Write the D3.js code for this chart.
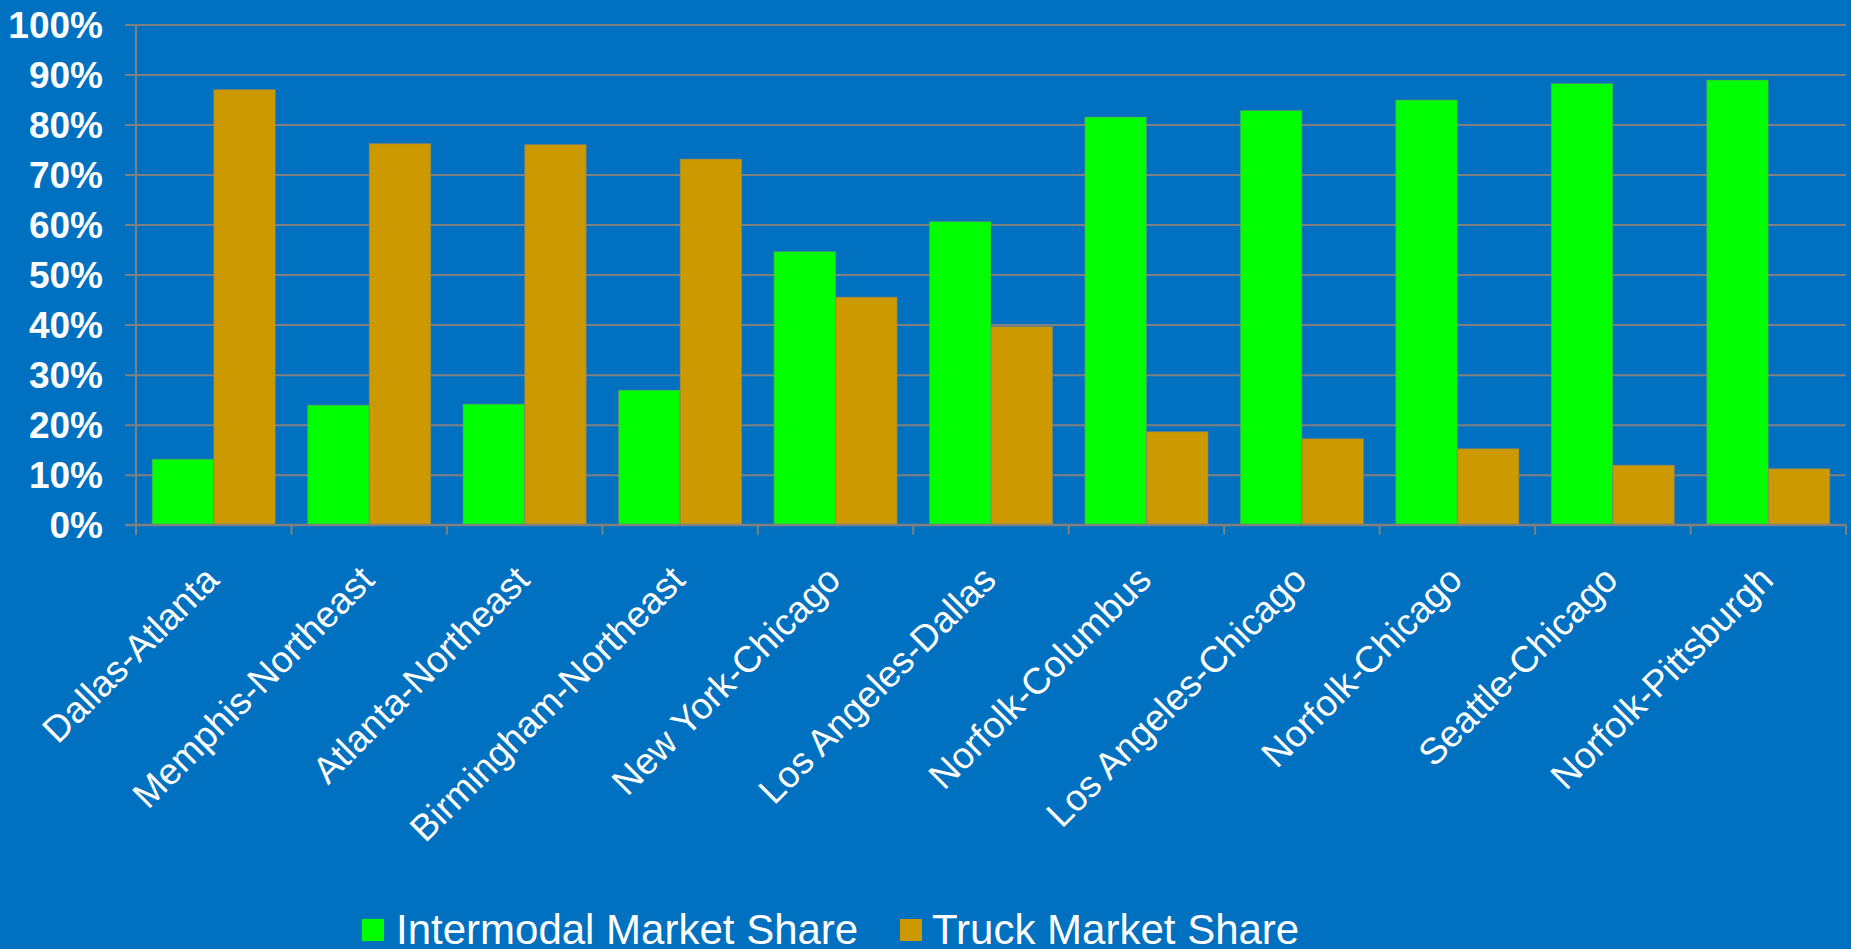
<!DOCTYPE html>
<html>
<head>
<meta charset="utf-8">
<script src="https://cdn.jsdelivr.net/npm/d3@7"></script>
<style>
  html, body { margin: 0; padding: 0; background: #0070C0; }
  svg { display: block; }
  text { font-family: "Liberation Sans", Arial, sans-serif; fill: #ffffff; }
</style>
</head>
<body>
<svg id="chart" width="1851" height="949"></svg>
<script>
const categories = ["Dallas-Atlanta", "Memphis-Northeast", "Atlanta-Northeast", "Birmingham-Northeast",
  "New York-Chicago", "Los Angeles-Dallas", "Norfolk-Columbus", "Los Angeles-Chicago",
  "Norfolk-Chicago", "Seattle-Chicago", "Norfolk-Pittsburgh"];
const seriesNames = ["Intermodal Market Share", "Truck Market Share"];
const intermodal = [13.1, 23.9, 24.1, 26.9, 54.6, 60.6, 81.5, 82.8, 84.9, 88.2, 88.9];
const truck = [87.0, 76.2, 76.0, 73.1, 45.5, 39.6, 18.6, 17.2, 15.2, 11.9, 11.2];
const yTicks = [0, 10, 20, 30, 40, 50, 60, 70, 80, 90, 100];
const colors = ["#00FF00", "#CC9900"];

const W = 1851, H = 949;
const m = { left: 136, right: 1846, top: 24.5, bottom: 524.7 };

const svg = d3.select("#chart");
svg.append("rect").attr("width", W).attr("height", H).attr("fill", "#0070C0");

const x0 = d3.scaleBand().domain(categories).range([m.left, m.right]).paddingInner(0).paddingOuter(0);
const x1 = d3.scaleBand().domain(seriesNames).range([0, x0.bandwidth()]).paddingInner(0).paddingOuter(0.262);
const y = d3.scaleLinear().domain([0, 100]).range([m.bottom, m.top]);

// gridlines + left ticks
const yAxis = d3.axisLeft(y).tickValues(yTicks).tickSize(-(m.right - m.left)).tickFormat(d => d + "%").tickPadding(33);
const gy = svg.append("g").attr("transform", `translate(${m.left},0)`).call(yAxis);
gy.select(".domain").remove();
gy.selectAll(".tick line").attr("stroke", "#808080").attr("stroke-width", 2).attr("x1", -11);
gy.selectAll(".tick text")
  .attr("fill", "#ffffff")
  .style("font-family", "'Liberation Sans', Arial, sans-serif")
  .style("font-size", "37px").style("font-weight", "bold")
  .attr("dy", "0.35em");

// vertical axis line
svg.append("line").attr("x1", m.left).attr("x2", m.left).attr("y1", m.top).attr("y2", m.bottom + 10)
  .attr("stroke", "#808080").attr("stroke-width", 2);

// bars
const data = categories.map((c, i) => ({ c, vals: [intermodal[i], truck[i]] }));
const groups = svg.append("g").selectAll("g").data(data).join("g")
  .attr("transform", d => `translate(${x0(d.c)},0)`);
groups.selectAll("rect").data(d => d.vals.map((v, j) => ({ s: seriesNames[j], v, j })))
  .join("rect")
  .attr("x", d => x1(d.s))
  .attr("width", x1.bandwidth())
  .attr("y", d => y(d.v))
  .attr("height", d => y(0) - y(d.v))
  .attr("fill", d => colors[d.j])
  .attr("stroke", "rgba(128,128,128,0.55)")
  .attr("stroke-width", 1);

// x axis
const xAxisG = svg.append("g");
xAxisG.append("line").attr("x1", m.left - 11).attr("x2", m.right).attr("y1", y(0)).attr("y2", y(0))
  .attr("stroke", "#808080").attr("stroke-width", 2);
const boundaries = categories.map(c => x0(c)).concat([m.right]);
xAxisG.selectAll("line.tk").data(boundaries).join("line").attr("class", "tk")
  .attr("x1", d => d).attr("x2", d => d).attr("y1", y(0)).attr("y2", y(0) + 10)
  .attr("stroke", "#808080").attr("stroke-width", 2);

xAxisG.selectAll("text.xl").data(categories).join("text").attr("class", "xl")
  .attr("transform", d => `translate(${x0(d) + x0.bandwidth() / 2 + 7},582) rotate(-45)`)
  .attr("text-anchor", "end")
  .style("font-size", "37px")
  .text(d => d);

// legend
const legend = svg.append("g");
const legendItems = [
  { name: seriesNames[0], color: colors[0], sx: 362, tx: 396 },
  { name: seriesNames[1], color: colors[1], sx: 900, tx: 932 }
];
legendItems.forEach(it => {
  legend.append("rect").attr("x", it.sx).attr("y", 919).attr("width", 22).attr("height", 22).attr("fill", it.color);
  legend.append("text").attr("x", it.tx).attr("y", 944).style("font-size", "42px").text(it.name);
});
</script>
</body>
</html>
